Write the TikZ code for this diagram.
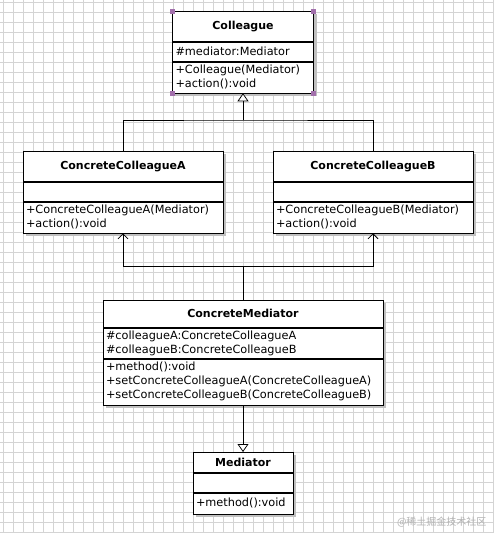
\documentclass[tikz,border=0pt]{standalone}
\usepackage{fontspec}
\setmainfont{DejaVu Sans}
\newfontfamily\cjk{Noto Sans CJK SC}
\usetikzlibrary{arrows.meta, positioning, backgrounds}
\definecolor{gridgray}{RGB}{212,212,212}
\definecolor{shadowgray}{RGB}{192,192,192}
\definecolor{handlepurple}{RGB}{162,112,172}
\definecolor{markgray}{RGB}{178,178,178}
\tikzset{
  classname/.style 2 args={rectangle, draw, fill=white, line width=0.75pt,
    anchor=north, minimum width=#1, minimum height=#2, inner sep=0pt,
    font=\fontsize{11}{14}\selectfont\bfseries},
  classpart/.style 2 args={rectangle, draw, fill=white, line width=0.75pt,
    anchor=north, text width=#1, minimum height=#2, inner xsep=3pt, inner ysep=0pt,
    align=left, font=\fontsize{11.3}{14}\selectfont},
  gridline/.style={line width=0.5pt, color=gridgray},
  boxshadow/.style={fill=shadowgray},
  inherit/.style={-{Triangle[length=8pt, width=11pt, fill=white]}, line width=0.75pt},
  assoc/.style={-{Straight Barb[length=5pt, width=10pt]}, line width=0.75pt},
  line/.style={line width=0.75pt},
  watermark/.style={font=\cjk\fontsize{10}{12}\selectfont, color=markgray}
}
\begin{document}
\begin{tikzpicture}[x=1pt, y=-1pt]
  \useasboundingbox (0,0) rectangle (493,533);
  % Grid background
  \begin{pgfonlayer}{background}
    \fill[white] (0,0) rectangle (493,533);
    \foreach \x in {3,13,...,493} \draw[gridline] (\x,0) -- (\x,533);
    \foreach \y in {2,12,...,532} \draw[gridline] (0,\y) -- (493,\y);
  \end{pgfonlayer}

  % Colleague
  \node[classname={141pt}{30pt}] (col) at (243,11) {Colleague};
  \node[classpart={135pt}{19pt}] (colAttr) at (col.south) {\#mediator:Mediator};
  \node[classpart={135pt}{31pt}] (colOps) at (colAttr.south) {+Colleague(Mediator)\\+action():void};
  \foreach \c in {col.north west, col.north east, colOps.south west, colOps.south east}
    \fill[handlepurple] ([shift={(-2.5,-2.5)}]\c) rectangle ++(5,5);

  % ConcreteColleagueA
  \node[classname={200pt}{30pt}] (ccA) at (123,151) {ConcreteColleagueA};
  \node[classpart={194pt}{19pt}] (ccAAttr) at (ccA.south) {};
  \node[classpart={194pt}{31pt}] (ccAOps) at (ccAAttr.south) {+ConcreteColleagueA(Mediator)\\+action():void};

  % ConcreteColleagueB
  \node[classname={200pt}{30pt}] (ccB) at (373,151) {ConcreteColleagueB};
  \node[classpart={194pt}{19pt}] (ccBAttr) at (ccB.south) {};
  \node[classpart={194pt}{31pt}] (ccBOps) at (ccBAttr.south) {+ConcreteColleagueB(Mediator)\\+action():void};

  % ConcreteMediator
  \node[classname={280pt}{27pt}] (cm) at (243,300) {ConcreteMediator};
  \node[classpart={274pt}{30pt}] (cmAttr) at (cm.south) {\#colleagueA:ConcreteColleagueA\\\#colleagueB:ConcreteColleagueB};
  \node[classpart={274pt}{46pt}] (cmOps) at (cmAttr.south) {+method():void\\+setConcreteColleagueA(ConcreteColleagueA)\\+setConcreteColleagueB(ConcreteColleagueB)};

  % Mediator
  \node[classname={100pt}{20pt}] (med) at (243,452) {Mediator};
  \node[classpart={94pt}{19pt}] (medAttr) at (med.south) {};
  \node[classpart={94pt}{21pt}] (medOps) at (medAttr.south) {+method():void};

  % Shadows behind the boxes
  \begin{pgfonlayer}{background}
    \foreach \t/\b in {col/colOps, ccA/ccAOps, ccB/ccBOps, cm/cmOps, med/medOps}
      \fill[boxshadow] ([shift={(3,3)}]\t.north west) rectangle ([shift={(3,3)}]\b.south east);
  \end{pgfonlayer}

  % Generalization to Colleague
  \coordinate (gen) at (243,120);
  \draw[line] (ccA.north) |- (gen) -| (ccB.north);
  \draw[inherit] (gen) -- (colOps.south);

  % Associations to the colleagues
  \coordinate (dep) at (243,266);
  \draw[line] (cm.north) -- (dep);
  \draw[assoc] (dep) -| (ccAOps.south);
  \draw[assoc] (dep) -| (ccBOps.south);

  % Generalization to Mediator
  \draw[inherit] (cmOps.south) -- (med.north);

  \node[watermark, anchor=east] (mark) at (490,522) {@稀土掘金技术社区};
\end{tikzpicture}
\end{document}
